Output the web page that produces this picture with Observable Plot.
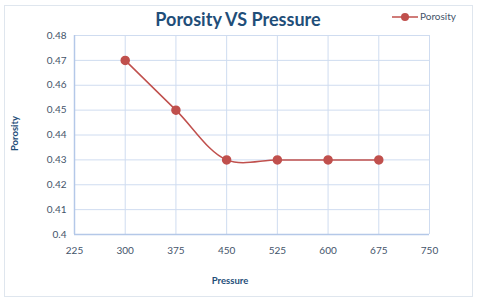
<!DOCTYPE html>
<html>
<head>
<meta charset="utf-8">
<script src="https://cdn.jsdelivr.net/npm/d3@7"></script>
<script src="https://cdn.jsdelivr.net/npm/@observablehq/plot@0.6"></script>
<style>
  html, body { margin: 0; padding: 0; background: #fff; }
  #wrap { position: relative; width: 480px; height: 303px; font-family: Lato, "Open Sans", sans-serif; }
  #frame { position: absolute; left: 4px; top: 5px; width: 469px; height: 292px; border: 1px solid #dfe6ee; box-sizing: border-box; }
  .lbl { position: absolute; color: #1f4e79; font-weight: bold; white-space: nowrap; }
</style>
</head>
<body>
<div id="wrap">
  <div id="frame"></div>
  <div id="chart" style="position:absolute;left:0;top:0;"></div>
  <div class="lbl" style="left:0;width:476px;top:8px;text-align:center;font-size:18px;">Porosity VS Pressure</div>
  <div class="lbl" style="left:184px;width:92px;top:275px;text-align:center;font-size:9.5px;">Pressure</div>
  <div class="lbl" style="left:-31px;width:90px;top:128px;text-align:center;font-size:9.5px;transform:rotate(-90deg);">Porosity</div>
  <svg style="position:absolute;left:390px;top:11px;" width="30" height="12">
    <line x1="2" x2="28" y1="6" y2="6" stroke="#c0504d" stroke-width="1.5"/>
    <circle cx="15" cy="6" r="4" fill="#c0504d"/>
  </svg>
  <div style="position:absolute;left:420px;top:10px;font-size:10px;color:#44546a;">Porosity</div>
</div>
<script>
const pressure = [300, 375, 450, 525, 600, 675];
const porosity = [0.47, 0.45, 0.43, 0.43, 0.43, 0.43];
const xTicks = [225, 300, 375, 450, 525, 600, 675, 750];
const yTicks = [0.40, 0.41, 0.42, 0.43, 0.44, 0.45, 0.46, 0.47, 0.48];

const data = pressure.map((p, i) => ({p, v: porosity[i]}));

const plot = Plot.plot({
  width: 480,
  height: 303,
  marginLeft: 74,
  marginRight: 51,
  marginTop: 35,
  marginBottom: 69,
  style: {fontFamily: "Lato, 'Open Sans', sans-serif", fontSize: "10px", color: "#44546a", background: "transparent"},
  x: {domain: [225, 750], ticks: xTicks, label: null},
  y: {domain: [0.40, 0.48], ticks: yTicks, label: null},
  marks: [
    Plot.gridX(xTicks, {stroke: "#cfdcf0", strokeOpacity: 1, strokeWidth: 1}),
    Plot.gridY(yTicks, {stroke: "#cfdcf0", strokeOpacity: 1, strokeWidth: 1}),
    Plot.ruleX([225], {stroke: "#b4c8e8", strokeWidth: 1.5}),
    Plot.ruleY([0.40], {stroke: "#b4c8e8", strokeWidth: 1.5}),
    Plot.axisX(xTicks, {tickSize: 0, tickPadding: 12, fill: "#44546a", fontSize: 10}),
    Plot.axisY(yTicks, {tickSize: 0, tickPadding: 8, fill: "#44546a", fontSize: 10, tickFormat: d => String(+d.toFixed(2))}),
    Plot.line(data, {x: "p", y: "v", stroke: "#c0504d", strokeWidth: 1.5, curve: "catmull-rom"}),
    Plot.dot(data, {x: "p", y: "v", r: 4, fill: "#c0504d", stroke: "#c0504d"})
  ]
});
document.getElementById("chart").appendChild(plot);
</script>
</body>
</html>
